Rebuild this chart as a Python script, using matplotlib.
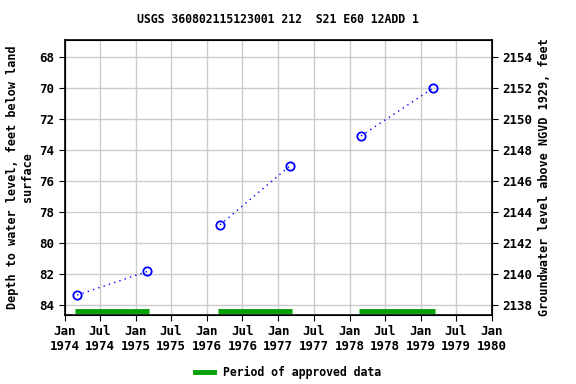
import matplotlib
matplotlib.use("Agg")
import matplotlib.pyplot as plt
import matplotlib.dates as mdates
import datetime as dt

dates = ["1974-03-07", "1975-03-01", "1976-03-08", "1977-03-02", "1978-03-01", "1979-03-05"]
depth = [83.37, 81.85, 78.84, 75.03, 73.1, 70.02]
segments = [[0, 1], [2, 3], [4, 5]]
approved = [("1974-02-24", "1975-03-10"), ("1976-02-26", "1977-03-12"), ("1978-02-19", "1979-03-15")]
datum = 2222.0

d = [dt.datetime.fromisoformat(s) for s in dates]
font = dict(family="DejaVu Sans Mono", weight="bold")

fig = plt.figure(figsize=(5.76, 3.84), dpi=100)
ax = fig.add_axes([0.112, 0.18, 0.742, 0.717])
for seg in segments:
    ax.plot([d[i] for i in seg], [depth[i] for i in seg], color="blue", linestyle=(0, (1, 3)), linewidth=1)
ax.plot(d, depth, linestyle="none", marker="o", markersize=6, markerfacecolor="none",
        markeredgecolor="blue", markeredgewidth=1.3)
for a, b in approved:
    ax.plot([dt.datetime.fromisoformat(a), dt.datetime.fromisoformat(b)], [84.43, 84.43],
            color="#00a000", linewidth=3.5, solid_capstyle="butt")

ax.set_xlim(dt.datetime(1974, 1, 1), dt.datetime(1980, 1, 1))
ax.set_ylim(84.65, 66.88)
ax.set_yticks([68, 70, 72, 74, 76, 78, 80, 82, 84])
ax.xaxis.set_major_locator(mdates.MonthLocator(bymonth=[1, 7]))
ax.xaxis.set_major_formatter(mdates.DateFormatter("%b\n%Y"))
ax.grid(True, color="#cccccc", linewidth=1)
ax.set_axisbelow(True)
for sp in ax.spines.values():
    sp.set_linewidth(1.2)
ax.tick_params(labelsize=9, length=4)
for lab in ax.get_xticklabels() + ax.get_yticklabels():
    lab.set_fontfamily("DejaVu Sans Mono"); lab.set_fontweight("bold")
ax.set_ylabel("Depth to water level, feet below land\nsurface", fontsize=8.5, **font)

ax2 = ax.twinx()
lo, hi = ax.get_ylim()
ax2.set_ylim(datum - lo, datum - hi)
ax2.set_yticks([2138, 2140, 2142, 2144, 2146, 2148, 2150, 2152, 2154])
ax2.tick_params(labelsize=9, length=4)
for lab in ax2.get_yticklabels():
    lab.set_fontfamily("DejaVu Sans Mono"); lab.set_fontweight("bold")
ax2.set_ylabel("Groundwater level above NGVD 1929, feet", fontsize=8.5, **font)

fig.suptitle("USGS 360802115123001 212  S21 E60 12ADD 1", x=0.483, y=0.965, fontsize=8.3, **font)

from matplotlib.lines import Line2D
h = [Line2D([0], [0], color="#00a000", linewidth=3.5)]
fig.legend(h, ["Period of approved data"], loc="center", bbox_to_anchor=(0.5, 0.03), frameon=False,
           prop=dict(family="DejaVu Sans Mono", weight="bold", size=8.3), handlelength=1.6)
fig.savefig("out.png", dpi=100)
